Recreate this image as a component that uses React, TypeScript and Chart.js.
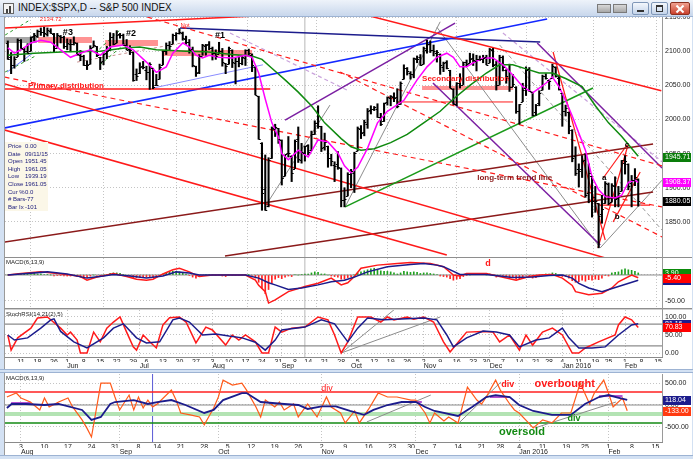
import React, { useEffect, useRef } from "react";
import { Chart, registerables } from "chart.js";

Chart.register(...registerables);
const FONT = "'Liberation Sans', Arial, sans-serif";
Chart.defaults.font.family = FONT;

type Pt = [number, number];

// x = trading-day index, 0 = Mon 11 May 2015 ; first bar = Tue 5 May 2015
const FIRST_BAR = -4;
const MAIN_X: Pt = [-4.85, 194.2];
const BOT_X: Pt = [54.6, 194.4];

// ---------------- S&P 500 daily OHLC (5 May 2015 .. 5 Feb 2016) ----------------
const opens = [
  2112,2091,2080,2092,2116,2103,2100,2100,2122,2122,2130,2128,2125,2130,2125,2105,2122,2121,
  2108,2110,2111,2112,2095,2093,2079,2081,2106,2107,2091,2085,2097,2101,2121,2112,2125,2123,2109,2103,2099,2066,
  2068,2078,2072,2069,2075,2050,2059,2080,2100,2109,2111,2124,2127,2127,2118,2114,2103,2078,2070,2093,2107,2111,
  2104,2097,2096,2100,2082,2081,2102,2082,2086,2083,2090,2101,2095,2077,2034,1966,1898,1873,1943,1986,1987,
  1970,1917,1951,1947,1928,1972,1941,1951,1963,1955,1979,1995,1990,1960,1961,1943,1933,1935,1929,1882,1888,
  1920,1922,1954,1986,1982,1994,2014,2015,2015,2003,1997,2025,2032,2033,2033,2022,2059,2075,2068,2066,2089,2091,
  2081,2102,2110,2102,2098,2096,2077,2084,2072,2044,2022,2054,2051,2084,2083,2090,2085,2089,2089,2091,
  2083,2102,2081,2051,2091,2073,2061,2048,2048,2013,2026,2046,2074,2040,2011,2024,2043,2064,2058,2061,2077,2060,
  2038,2013,2011,1985,1946,1927,1927,1940,1892,1917,1886,1877,1862,1877,1906,1879,1903,1885,1895,
  1936,1935,1907,1911,1913,
];
const highs = [
  2115,2098,2092,2118,2117,2105,2111,2121,2126,2131,2134,2135,2134,2133,2126,2126,2123,2122,
  2118,2117,2121,2112,2101,2094,2086,2108,2115,2107,2091,2098,2107,2127,2126,2130,2126,2125,2117,2108,2099,2074,
  2083,2085,2078,2083,2075,2066,2081,2100,2112,2114,2125,2127,2133,2128,2122,2117,2106,2078,2095,2110,2110,2114,
  2106,2102,2113,2104,2082,2106,2102,2090,2093,2093,2102,2103,2096,2077,2034,1966,1948,1944,1989,1993,1987,
  1970,1948,1975,1947,1970,1989,1965,1961,1963,1983,1998,2020,1990,1980,1961,1949,1938,1953,1929,1900,1922,
  1927,1952,1989,1991,1999,2016,2020,2019,2023,2009,2024,2033,2035,2039,2045,2055,2080,2076,2070,2090,2093,2095,
  2106,2116,2115,2109,2101,2096,2084,2086,2072,2045,2054,2067,2084,2087,2097,2096,2094,2093,2094,2094,
  2104,2104,2085,2094,2093,2073,2081,2066,2048,2022,2053,2077,2076,2040,2022,2042,2065,2067,2058,2081,2077,2063,
  2038,2021,2011,1985,1960,1935,1947,1950,1935,1917,1902,1877,1889,1909,1907,1906,1916,1902,1940,
  1947,1935,1918,1928,1913,
];
const lows = [
  2088,2067,2075,2092,2104,2085,2096,2100,2115,2120,2123,2121,2122,2126,2099,2105,2112,2104,
  2102,2099,2109,2094,2086,2079,2073,2081,2106,2092,2073,2080,2089,2101,2109,2112,2119,2108,2102,2095,2056,2057,
  2067,2074,2058,2044,2045,2050,2059,2080,2095,2102,2111,2116,2125,2116,2110,2097,2077,2063,2067,2094,2094,2102,
  2087,2088,2096,2078,2067,2081,2076,2052,2077,2080,2079,2094,2070,2036,1971,1867,1867,1872,1943,1975,1965,
  1904,1917,1945,1909,1928,1937,1936,1939,1948,1955,1978,1987,1953,1955,1930,1932,1909,1927,1872,1872,1888,
  1900,1893,1954,1972,1976,1987,2008,2013,2003,1991,1997,2021,2020,2026,2017,2022,2059,2065,2059,2061,2083,2079,
  2081,2097,2098,2093,2084,2066,2070,2074,2046,2022,2020,2046,2051,2078,2083,2079,2071,2086,2083,2080,
  2083,2077,2043,2051,2071,2053,2041,2048,2009,1993,2026,2035,2041,2005,2006,2020,2043,2059,2044,2061,2062,2043,
  1990,2005,1979,1938,1918,1901,1915,1886,1878,1857,1864,1812,1848,1877,1875,1879,1872,1872,1895,
  1920,1897,1872,1903,1873,
];
const closes = [
  2089,2080,2088,2116,2105,2100,2098,2121,2123,2129,2128,2126,2131,2126,2104,2123,2121,2107,
  2112,2110,2114,2096,2093,2079,2080,2105,2109,2094,2084,2096,2100,2121,2110,2123,2124,2109,2102,2101,2058,2063,
  2077,2077,2069,2081,2047,2051,2077,2100,2109,2107,2124,2127,2128,2119,2114,2102,2080,2068,2093,2109,2109,2104,
  2098,2093,2100,2084,2078,2104,2084,2086,2083,2092,2102,2097,2080,2036,1971,1893,1868,1940,1988,1989,1972,
  1914,1949,1951,1921,1969,1942,1952,1961,1953,1978,1995,1990,1958,1967,1943,1939,1932,1931,1882,1884,1920,
  1924,1951,1987,1980,1996,2013,2015,2018,2004,1994,2024,2033,2034,2031,2019,2053,2075,2071,2066,2090,2089,2079,
  2104,2110,2102,2100,2099,2079,2082,2075,2046,2023,2053,2050,2084,2081,2089,2087,2089,2089,2090,2080,
  2103,2080,2050,2092,2077,2064,2048,2052,2012,2022,2043,2073,2042,2006,2021,2039,2064,2061,2056,2078,2063,2044,
  2013,2017,1990,1943,1922,1924,1939,1890,1922,1880,1881,1859,1869,1907,1877,1904,1883,1893,1940,
  1939,1903,1912,1916,1880,
];

// moving averages on the price panel
const pinkAvg: Pt[] = [
  [-4,2105],[-2,2097],[0,2102],[3,2112],[6,2116],[9,2113],[12,2102],[15,2091],[18,2097],[21,2102],[24,2094],
  [27,2106],[31,2109],[34,2102],[38,2084],[41,2069],[44,2077],[46,2097],[49,2112],[51,2106],[53,2094],[55,2090],
  [57,2094],[60,2091],[64,2090],[68,2094],[70,2091],[72,2068],[74,2030],[76,1995],[78,1974],[79,1950],[81,1941],
  [84,1955],[87,1945],[90,1970],[93,1967],[96,1951],[98,1932],[100,1922],[102,1930],[105,1958],[108,1995],
  [111,2012],[116,2028],[120,2058],[123,2077],[126,2091],[129,2097],[131,2091],[133,2077],[135,2077],[137,2083],
  [140,2090],[143,2090],[146,2080],[149,2065],[152,2048],[155,2039],[157,2046],[159,2053],[161,2062],[163,2048],
  [165,2028],[167,2005],[169,1980],[171,1955],[173,1916],[175,1897],[177,1887],[180,1885],[182,1889],[184,1908],
  [186,1911],[187,1908],
];
const greenAvg: Pt[] = [
  [-4,2094],[4,2097],[14,2099],[24,2100],[32,2105],[36,2106],[41,2102],[50,2100],[56,2099],[64,2095],[70,2093],
  [73,2088],[76,2075],[80,2058],[84,2040],[88,2020],[92,1995],[97,1972],[100,1960],[103,1955],[107,1957],
  [112,1966],[117,1978],[122,1995],[127,2012],[131,2030],[136,2050],[141,2068],[145,2080],[149,2080],[153,2074],
  [157,2068],[161,2068],[165,2060],[170,2048],[174,2020],[178,1995],[182,1975],[187,1946],
];

// hand-drawn trend lines on the price panel (endpoints: day index, price)
const redTop: Pt[] = [[-5,2134],[71,2151.5]];
const redUpperDown: Pt[] = [[100,2158.5],[194,2042]];
const redChanA: Pt[] = [[-5,1984.6],[129,1801.5]];
const redChanB: Pt[] = [[-5,2052],[180,1793]];
const redDashA: Pt[] = [[38.2,2150],[194.2,1932]];
const redDashB: Pt[] = [[96.7,2069.5],[194.2,1828]];
const redDashC: Pt[] = [[-5,2062],[194.2,1872]];
const primaryLine: Pt[] = [[-5,2044.6],[75.5,2044.6]];
const blueUp: Pt[] = [[-5,1987.5],[159.4,2147]];
const navyLine: Pt[] = [[48.2,2134],[157.3,2113.4]];
const lightBlue1: Pt[] = [[40,2046],[73.3,2080]];
const lightBlue2: Pt[] = [[-4.2,2069.5],[3.6,2097.3]];
const purpleUp: Pt[] = [[80,1999],[131.5,2141]];
const purpleDown1: Pt[] = [[124.8,2053.4],[175.5,1816.2]];
const purpleDown2: Pt[] = [[156.4,2112],[194.2,1929]];
const greenUp: Pt[] = [[98.2,1872],[173.3,2046]];
const brownUpper: Pt[] = [[-5,1820.6],[191.5,1964]];
const brownLower: Pt[] = [[61.8,1800],[191.5,1893.8]];
const greyFan1: Pt[] = [[98.2,1872],[127,2143]];
const greyFan2: Pt[] = [[73.9,1872],[93.6,2021]];
const greyFan3: Pt[] = [[126,2135],[175.5,1812]];
const greyFan4: Pt[] = [[145,2109],[194.2,1838]];
const greyFan5: Pt[] = [[175.5,1812],[194.2,1911]];
const thistle1: Pt[] = [[63.3,2126.6],[98.8,2043]];
const thistle2: Pt[] = [[146,2126.6],[194.2,1938]];
const greenDash1: Pt[] = [[-4.8,2123.6],[2.7,2145.6]];
const greenDash2: Pt[] = [[22.4,2097],[30,2131]];
const greenDash3: Pt[] = [[23.9,2080],[32,2113]];
const greenDash4: Pt[] = [[-4.8,2069.5],[4.8,2094]];
const brownDash: Pt[] = [[17,2084],[50.3,2113.4]];
const redSteep: Pt[] = [[161.2,2098.8],[177,1823.5]];
const redAC: Pt[] = [[176.4,1914.3],[183.6,1962.6]];
const redBC: Pt[] = [[174.8,1812],[183.9,1962.6]];
const redBUp: Pt[] = [[179.4,1850],[187.6,1923]];
const redFlat: Pt[] = [[175.5,1874.7],[190.6,1874.7]];
const zoneGrey: Pt[] = [[-4.8,2116.3],[4.8,2116.3]];
const zone3: Pt[] = [[5.2,2116.3],[21.5,2116.3]];
const zone2: Pt[] = [[25.5,2112],[41.5,2112]];
const zone1: Pt[] = [[42.7,2097.3],[70,2097.3]];
const zoneSecondary: Pt[] = [[121.5,2046],[149.1,2046]];
const secondaryLine: Pt[] = [[114.8,2025.6],[149.1,2025.6]];
const CURSOR_DAY = 86; // 11 Sep 2015

// ---------------- MACD(6,13,9) middle panel ----------------
const macdLine: Pt[] = [
  [-4,0],[0,3],[6,6],[11,3],[15,0],[18,-3],[20,-10],[23,-4],[26,0],[28,3],[32,-3],[35,-8],[38,-10],[40,-8],
  [43,2],[46,10],[48,13],[51,6],[54,-3],[58,0],[63,0],[68,0],[71,-10],[72,-20],[74,-32],[75,-54],[77,-48],
  [81,-32],[86,-22],[90,-16],[94,-6],[97,-19],[99,-15],[101,-3],[103,13],[108,19],[114,22],[118,24],[124,22],
  [128,16],[131,0],[133,-2],[135,3],[141,3],[145,-3],[150,-10],[154,-3],[157,0],[161,1],[164,-6],[167,-20],
  [168,-32],[172,-38],[176,-35],[179,-25],[181,-13],[185,0],[187,-5.4],
];
const macdSignal: Pt[] = [
  [-4,0],[8,6],[14,2],[20,-6],[25,-2],[28,1],[33,-2],[38,-6],[43,-2],[47,6],[51,4],[54,0],[68,0],[72,-6],
  [75,-15],[77,-19],[81,-28],[85,-25],[90,-19],[94,-13],[98,-10],[101,-4],[105,6],[111,16],[118,20],[122,22],
  [126,19],[128,16],[133,1],[141,1],[145,-2],[149,-5],[155,-4],[160,-1],[164,0],[167,-6],[169,-16],[172,-25],
  [176,-32],[181,-22],[187,-10],
];
const macdHist = [
  0,1,1,2,2,2,3,3,3,2,2,1,1,0,-2,-1,-1,-2,
  -2,-2,-1,-3,-4,-5,-5,-2,0,-1,-2,0,1,3,4,4,3,1,-1,-2,-5,-5,
  -4,-3,-4,-3,-5,-4,-1,2,4,6,7,7,6,4,2,-1,-4,-6,-3,-1,1,1,
  0,-1,0,-2,-3,0,-1,-1,-1,0,1,1,-1,-6,-14,-26,-36,-28,-16,-8,-5,
  -7,-4,-2,-3,1,0,1,2,2,4,6,5,2,2,0,-2,-3,-4,-8,-8,-5,
  -3,0,4,6,8,10,12,13,11,8,7,7,6,4,2,4,7,6,5,6,5,3,
  4,4,3,2,1,-2,-3,-4,-7,-10,-8,-7,-3,-1,0,1,1,1,1,0,
  2,0,-4,-1,-2,-3,-5,-5,-8,-8,-5,-1,-2,-6,-5,-3,1,2,2,4,3,1,
  -3,-3,-6,-11,-14,-13,-10,-12,-9,-10,-8,-9,-6,-1,-2,4,5,6,10,
  12,10,9,7,4,
];

// ---------------- StochRSI(14,21(2),5) ----------------
const stochFast: Pt[] = [
  [-4,50],[-3,8],[-1,42],[3,69],[5,97],[8,100],[12,69],[14,50],[15,58],[17,36],[18,0],[20,0],[22,58],[24,31],
  [26,69],[28,86],[30,100],[32,58],[34,17],[35,8],[37,50],[39,31],[41,14],[43,78],[45,98],[48,100],[50,86],
  [53,28],[56,72],[58,64],[62,22],[64,50],[66,36],[68,50],[71,31],[73,0],[75,0],[77,72],[79,58],[82,69],
  [86,72],[90,100],[93,92],[95,50],[97,0],[99,31],[102,100],[106,100],[109,86],[111,100],[113,92],[117,100],
  [119,94],[122,100],[125,86],[128,31],[130,3],[133,36],[135,58],[140,60],[143,58],[145,31],[148,50],[151,8],
  [153,50],[155,22],[158,58],[161,69],[164,50],[167,0],[169,0],[171,14],[175,31],[180,50],[181,78],[183,100],
  [185,92],[187,71],
];
const stochSlow: Pt[] = [
  [-4,50],[-2,36],[2,42],[6,69],[9,92],[10,95],[12,60],[16,31],[20,14],[25,42],[28,69],[31,81],[35,42],
  [38,28],[42,31],[46,92],[48,97],[51,86],[55,50],[59,53],[63,47],[67,42],[71,30],[74,8],[77,36],[79,64],
  [86,72],[91,92],[95,81],[99,31],[102,69],[105,97],[110,92],[122,97],[126,92],[129,50],[131,17],[135,42],
  [140,61],[144,58],[148,50],[151,17],[156,36],[160,42],[164,69],[166,42],[169,14],[173,14],[177,17],
  [181,50],[185,78],[187,81],
];
const stochRay1: Pt[] = [[97,0],[113,120]];
const stochRay2: Pt[] = [[97,0],[127,100]];

// ---------------- lower window MACD(6,13,9) ----------------
const lowMacd: Pt[] = [
  [55,182],[57,272],[58,160],[60,68],[62,-113],[63,160],[64,-45],[66,68],[68,160],[69,-45],[71,-340],
  [72,-522],[73,-730],[75,500],[77,500],[78,182],[79,-113],[81,227],[82,-113],[83,182],[84,-68],[85,113],
  [86,-45],[87,23],[90,340],[91,113],[92,-182],[94,-226],[96,-272],[97,-454],[99,-68],[100,182],[101,567],
  [103,454],[105,500],[106,340],[108,-45],[109,-272],[110,113],[112,-45],[113,68],[114,-113],[116,23],
  [117,-272],[119,23],[121,-272],[123,182],[124,-45],[126,-182],[127,-409],[129,-136],[130,-409],[132,-90],
  [134,272],[136,182],[138,182],[141,113],[142,113],[144,-182],[145,-409],[146,-182],[148,-363],[149,-272],
  [151,-409],[153,408],[155,113],[156,23],[157,182],[159,567],[160,340],[162,23],[163,-113],[164,-182],
  [166,-409],[167,-522],[169,-340],[171,-409],[173,-182],[175,-182],[177,500],[179,23],[180,272],[182,567],
  [183,272],[184,-45],[186,160],[187,-133],
];
const lowSignal: Pt[] = [
  [55,-68],[56,23],[59,23],[63,0],[66,23],[71,-113],[73,-340],[75,-272],[77,23],[78,68],[82,113],[85,23],
  [87,68],[90,113],[93,0],[97,-182],[99,-113],[101,113],[105,272],[106,272],[109,68],[114,23],[117,0],
  [119,-90],[122,-30],[125,-30],[128,-136],[131,-226],[133,-113],[136,0],[139,68],[142,68],[144,-45],
  [146,-136],[151,-250],[154,-45],[157,182],[159,227],[162,182],[164,0],[167,-136],[171,-226],[175,-226],
  [178,23],[181,182],[183,227],[185,170],[187,118],
];
const OVERBOUGHT = 295;
const OVERSOLD_SOFT = -205;
const OVERSOLD = -410;
const lowRay1: Pt[] = [[131.6,-386],[145.2,227]];
const lowRay2: Pt[] = [[151.2,-409],[160.1,522]];
const lowRay3: Pt[] = [[167.4,-522],[184.6,68]];
const violet1: Pt[] = [[55.9,45],[60.1,45]];
const violet2: Pt[] = [[139.5,68],[143.3,68]];
const violet3: Pt[] = [[157.8,182],[162,182]];
const violet4: Pt[] = [[181,204],[186,204]];

// ---------------- date axes ----------------
const weekIdx = [0,5,10,14,19,24,29,34,38,43,48,53,58,63,68,73,78,83,87,92,97,102,107,112,117,122,127,132,137,141,146,151,156,160,164,169,174,178,183,188,193];
const weekLbl = ["11","18","26","1","8","15","22","29","6","13","20","27","3","10","17","24","31","8","14","21","28","5","12","19","26","2","9","16","23","30","7","14","21","28","4","11","19","25","1","8","15"];
const monthIdx = [14,36,58,79,100,122,142,164,183];
const monthLbl = ["Jun","Jul","Aug","Sep","Oct","Nov","Dec","Jan 2016","Feb"];
const lowWeekIdx = [58,63,68,73,78,83,87,92,97,102,107,112,117,122,127,132,137,141,146,151,156,160,164,169,174,178,183,188,193];
const lowWeekLbl = ["3","10","17","24","31","8","14","21","28","5","12","19","26","2","9","16","23","30","7","14","21","28","4","11","19","25","1","8","15"];
const lowMonthIdx = [58,79,100,122,142,164,183];
const lowMonthLbl = ["Aug","Sep","Oct","Nov","Dec","Jan 2016","Feb"];

const priceTicks = [1850,1900,1950,2000,2050,2100,2150];

// ---------------- helpers ----------------
const line = (pts: Pt[], color: string, width = 1, dash: number[] = [], order = 6): any => ({
  type: "line",
  data: pts.map(([x, y]) => ({ x, y })),
  borderColor: color,
  backgroundColor: color,
  borderWidth: width,
  borderDash: dash,
  borderCapStyle: "butt",
  pointRadius: 0,
  pointHoverRadius: 0,
  tension: 0,
  fill: false,
  order,
});
const hLine = (v: number, range: Pt, color: string, width = 1, dash: number[] = [], order = 8) =>
  line([[range[0] - 1, v], [range[1] + 1, v]], color, width, dash, order);
const vLine = (d: number, lo: number, hi: number, color: string, width = 1) =>
  line([[d, lo], [d, hi]], color, width, [], 9);

const xHidden = (r: Pt): any => ({
  type: "linear", min: r[0], max: r[1], offset: false, bounds: "data",
  afterBuildTicks: (s: any) => { s.ticks = monthIdx.map((v) => ({ value: v })); },
  ticks: { display: false },
  grid: { color: "#c4c4c4", drawTicks: false },
  border: { display: false, dash: [1, 2] },
  afterFit: (s: any) => { s.height = 0; s.paddingLeft = 0; s.paddingRight = 0; },
});
const yRight = (min: number, max: number, ticks: number[], grid = true): any => ({
  type: "linear", position: "right", min, max, bounds: "data",
  afterBuildTicks: (s: any) => { s.ticks = ticks.map((v) => ({ value: v })); },
  ticks: { font: { size: 7, family: FONT }, color: "#222", padding: 3, autoSkip: false,
    callback: (v: any) => Number(v).toFixed(2) },
  grid: { display: grid, color: "#c4c4c4", drawTicks: false },
  border: { display: false, dash: [1, 2] },
  afterFit: (s: any) => { s.width = 29; s.paddingTop = 0; s.paddingBottom = 0; },
});
const xWeeks = (r: Pt, idx: number[], lbl: string[], h: number): any => ({
  type: "linear", position: "bottom", min: r[0], max: r[1], offset: false, bounds: "data",
  afterBuildTicks: (s: any) => { s.ticks = idx.map((v) => ({ value: v })); },
  ticks: { autoSkip: false, maxRotation: 0, minRotation: 0, padding: 1, color: "#222",
    font: { size: 7, family: FONT, lineHeight: 1.2 }, callback: (_v: any, i: number) => lbl[i] },
  grid: { display: false, drawTicks: false },
  border: { display: true, color: "#8a8a8a" },
  afterFit: (s: any) => { s.height = h; s.paddingLeft = 0; s.paddingRight = 0; },
});
const xMonths = (r: Pt, idx: number[], lbl: string[], h: number): any => ({
  type: "linear", position: "bottom", weight: 1, min: r[0], max: r[1], offset: false, bounds: "data",
  afterBuildTicks: (s: any) => { s.ticks = idx.map((v) => ({ value: v })); },
  ticks: { autoSkip: false, maxRotation: 0, minRotation: 0, padding: 0, align: "start", color: "#222",
    font: { size: 7, family: FONT, lineHeight: 1.2 }, callback: (_v: any, i: number) => lbl[i] },
  grid: { display: true, color: "#c4c4c4", drawTicks: false },
  border: { display: false, dash: [1, 2] },
  afterFit: (s: any) => { s.height = h; s.paddingLeft = 0; s.paddingRight = 0; },
});

type Note = { t: string; x: number; y: number; color: string; size: number; bold?: boolean; align?: CanvasTextAlign };
const notesPlugin = (id: string, notes: Note[]) => ({
  id,
  afterDatasetsDraw(chart: any) {
    const { ctx, scales } = chart;
    ctx.save();
    ctx.textBaseline = "middle";
    for (const n of notes) {
      ctx.font = `${n.bold ? "bold " : ""}${n.size}px ${FONT}`;
      ctx.fillStyle = n.color;
      ctx.textAlign = n.align || "center";
      ctx.fillText(n.t, scales.x.getPixelForValue(n.x), scales.y.getPixelForValue(n.y));
    }
    ctx.restore();
  },
});
type Box = { v: number; t: string; bg: string };
const boxesPlugin = (id: string, boxes: Box[]) => ({
  id,
  afterDraw(chart: any) {
    const { ctx, chartArea, scales } = chart;
    ctx.save();
    ctx.font = `7px ${FONT}`;
    ctx.textBaseline = "middle";
    ctx.textAlign = "left";
    for (const b of boxes) {
      const py = Math.round(scales.y.getPixelForValue(b.v));
      ctx.fillStyle = b.bg;
      ctx.fillRect(chartArea.right + 1, py - 4, 29, 9);
      ctx.fillStyle = "#fff";
      ctx.fillText(b.t, chartArea.right + 3, py + 0.5);
    }
    ctx.restore();
  },
});
const ohlcTicksPlugin = {
  id: "ohlcTicks",
  afterDatasetsDraw(chart: any) {
    const { ctx, scales } = chart;
    ctx.save();
    ctx.strokeStyle = "#000";
    ctx.lineWidth = 1;
    ctx.beginPath();
    for (let i = 0; i < closes.length; i++) {
      const px = scales.x.getPixelForValue(FIRST_BAR + i);
      const po = Math.round(scales.y.getPixelForValue(opens[i])) + 0.5;
      const pc = Math.round(scales.y.getPixelForValue(closes[i])) + 0.5;
      ctx.moveTo(px - 2, po); ctx.lineTo(px, po);
      ctx.moveTo(px, pc); ctx.lineTo(px + 2, pc);
    }
    ctx.stroke();
    ctx.restore();
  },
};

const baseOptions = (scales: any) => ({
  animation: false,
  responsive: false,
  events: [],
  layout: { padding: 0 },
  plugins: { legend: { display: false }, tooltip: { enabled: false }, title: { display: false } },
  scales,
});

const RED = "#ff1a1a";
const DASH = [5, 4];

function priceConfig(): any {
  const ds = [
    { type: "bar", data: highs.map((h, i) => ({ x: FIRST_BAR + i, y: [lows[i], h] })), backgroundColor: "#000",
      borderWidth: 0, barThickness: 1.4, grouped: false, order: 4 },
    line(pinkAvg, "#ff00ff", 1.5, [], 2),
    line(greenAvg, "#0f8a0f", 1.5, [], 2),
    vLine(CURSOR_DAY, 1700, 2200, "#b8b8b8"),
    line(zoneGrey, "rgba(150,150,150,0.85)", 6, [], 7),
    line(zone3, "rgba(255,120,120,0.8)", 6, [], 7),
    line(zone2, "rgba(255,120,120,0.8)", 6, [], 7),
    line(zone1, "rgba(255,120,120,0.8)", 6, [], 7),
    line(zoneSecondary, "rgba(255,120,120,0.8)", 4, [], 7),
    line(secondaryLine, RED, 1),
    line(primaryLine, RED, 1.5),
    line(redTop, RED, 1.5),
    line(redUpperDown, RED, 1.5),
    line(redChanA, RED, 1.5),
    line(redChanB, RED, 1.5),
    line(redDashA, RED, 1.2, DASH),
    line(redDashB, RED, 1.2, DASH),
    line(redDashC, RED, 1.2, DASH),
    line(blueUp, "#1428ff", 1.5),
    line(navyLine, "#1c1c8c", 1.5),
    line(lightBlue1, "#8a8cff", 1),
    line(lightBlue2, "#6b7bff", 1),
    line(purpleUp, "#7b1fa2", 1.5),
    line(purpleDown1, "#7b1fa2", 1.5),
    line(purpleDown2, "#7b1fa2", 1.5),
    line(greenUp, "#1a9a1a", 1.5),
    line(brownUpper, "#8b1a1a", 1.5),
    line(brownLower, "#8b1a1a", 1.5),
    line(greyFan1, "#8c8c8c", 1),
    line(greyFan2, "#8c8c8c", 1),
    line(greyFan3, "#8c8c8c", 1),
    line(greyFan4, "#9a9a9a", 1, [4, 3]),
    line(greyFan5, "#8c8c8c", 1),
    line(thistle1, "#c9a3dc", 1.2, [4, 3]),
    line(thistle2, "#c9a3dc", 1.2, [4, 3]),
    line(greenDash1, "#2a9a2a", 1, [3, 3]),
    line(greenDash2, "#2a9a2a", 1, [3, 3]),
    line(greenDash3, "#2a9a2a", 1, [3, 3]),
    line(greenDash4, "#2a9a2a", 1, [3, 3]),
    line(brownDash, "#c89090", 1, [3, 3]),
    line(redSteep, RED, 1.2),
    line(redAC, RED, 1.2),
    line(redBC, RED, 1.2),
    line(redBUp, RED, 1.2),
    line(redFlat, RED, 1.2),
  ];
  const notes: Note[] = [
    { t: "2134.72", x: 9, y: 2147, color: RED, size: 6 },
    { t: "Not", x: 49.7, y: 2138, color: RED, size: 6 },
    { t: "#3", x: 14.2, y: 2128, color: "#000", size: 9, bold: true },
    { t: "#2", x: 33.3, y: 2126.5, color: "#000", size: 9, bold: true },
    { t: "#1", x: 60.3, y: 2123.5, color: "#000", size: 9, bold: true },
    { t: "Primary distribution", x: 2.1, y: 2049, color: RED, size: 8, bold: true, align: "left" },
    { t: "Secondary distribution", x: 121.5, y: 2059, color: RED, size: 8, bold: true, align: "left" },
    { t: "long-term trend line", x: 138.2, y: 1914, color: "#8b1a1a", size: 8, bold: true, align: "left" },
    { t: "a", x: 176.7, y: 1914, color: "#000", size: 8, bold: true },
    { t: "b", x: 180.6, y: 1857, color: "#000", size: 8, bold: true },
    { t: "c", x: 183.6, y: 1963, color: "#000", size: 8, bold: true },
  ];
  const boxes: Box[] = [
    { v: 1945.71, t: "1945.71", bg: "#0a7d0a" },
    { v: 1908.37, t: "1908.37", bg: "#ff00ff" },
    { v: 1880.05, t: "1880.05", bg: "#000" },
  ];
  return {
    type: "line",
    data: { datasets: ds },
    options: baseOptions({ x: xHidden(MAIN_X), y: yRight(1798.6, 2150, priceTicks) }),
    plugins: [ohlcTicksPlugin, notesPlugin("priceNotes", notes), boxesPlugin("priceBoxes", boxes)],
  };
}

function macdConfig(): any {
  const ds = [
    { type: "bar", data: macdHist.map((v, i) => ({ x: FIRST_BAR + i, y: v })),
      backgroundColor: macdHist.map((v) => (v >= 0 ? "#1fa01f" : "#ff2020")), barThickness: 1, grouped: false, order: 7 },
    hLine(0, MAIN_X, "#8c8c8c", 1),
    vLine(CURSOR_DAY, -100, 100, "#b8b8b8"),
    line(macdLine, RED, 1.5, [], 3),
    line(macdSignal, "#1c1c8c", 1.5, [], 2),
  ];
  const notes: Note[] = [{ t: "d", x: 141.5, y: 23, color: RED, size: 9, bold: true }];
  const boxes: Box[] = [
    { v: -9.3, t: "-9.30", bg: "#1c1c8c" },
    { v: 3.9, t: "3.90", bg: "#0a8a0a" },
    { v: -5.4, t: "-5.40", bg: "#ff0000" },
  ];
  return {
    type: "line",
    data: { datasets: ds },
    options: baseOptions({ x: xHidden(MAIN_X), y: yRight(-63.5, 32.7, [-50, 0]) }),
    plugins: [notesPlugin("macdNotes", notes), boxesPlugin("macdBoxes", boxes)],
  };
}

function stochConfig(): any {
  const ds = [
    hLine(80, MAIN_X, "#8c8c8c", 1.2),
    hLine(20, MAIN_X, "#8c8c8c", 1.2),
    vLine(CURSOR_DAY, -20, 130, "#b8b8b8"),
    line(stochRay1, "#8c8c8c", 1, [], 7),
    line(stochRay2, "#8c8c8c", 1, [], 7),
    line(stochFast, RED, 1.5, [], 3),
    line(stochSlow, "#1c1c8c", 1.5, [], 2),
  ];
  const boxes: Box[] = [
    { v: 81.16, t: "81.16", bg: "#1c1c8c" },
    { v: 70.83, t: "70.83", bg: "#ff0000" },
  ];
  return {
    type: "line",
    data: { datasets: ds },
    options: baseOptions({
      x: xWeeks(MAIN_X, weekIdx, weekLbl, 5),
      xm: xMonths(MAIN_X, monthIdx, monthLbl, 7),
      y: yRight(-11.1, 119.4, [0, 50, 100]),
    }),
    plugins: [boxesPlugin("stochBoxes", boxes)],
  };
}

function lowerConfig(): any {
  const ds = [
    hLine(OVERBOUGHT, BOT_X, "#ff2020", 1.5),
    hLine(0, BOT_X, "#8c8c8c", 1.2),
    hLine(OVERSOLD_SOFT, BOT_X, "#b3e3b3", 4),
    hLine(OVERSOLD, BOT_X, "#138a13", 1.5),
    vLine(CURSOR_DAY, -1000, 1000, "#5a5ad6"),
    line(lowRay1, "#8c8c8c", 1, [], 7),
    line(lowRay2, "#8c8c8c", 1, [], 7),
    line(lowRay3, "#8c8c8c", 1, [], 7),
    line(violet1, "#b050d0", 2, [], 7),
    line(violet2, "#b050d0", 2, [], 7),
    line(violet3, "#b050d0", 2, [], 7),
    line(violet4, "#b050d0", 2, [], 7),
    line(lowMacd, "#ff5a1a", 1.2, [], 3),
    line(lowSignal, "#1c1c8c", 1.8, [], 2),
  ];
  const notes: Note[] = [
    { t: "div", x: 123.1, y: 380, color: RED, size: 9 },
    { t: "div", x: 161.6, y: 470, color: RED, size: 9, bold: true },
    { t: "overbought", x: 173.7, y: 470, color: RED, size: 11, bold: true },
    { t: "div", x: 175.7, y: -318, color: "#138a13", size: 9, bold: true },
    { t: "oversold", x: 164.6, y: -616, color: "#138a13", size: 11, bold: true },
  ];
  const boxes: Box[] = [
    { v: 118.04, t: "118.04", bg: "#1c1c8c" },
    { v: -133, t: "-133.00", bg: "#ff3a10" },
  ];
  return {
    type: "line",
    data: { datasets: ds },
    options: baseOptions({
      x: xWeeks(BOT_X, lowWeekIdx, lowWeekLbl, 6),
      xm: xMonths(BOT_X, lowMonthIdx, lowMonthLbl, 7),
      y: yRight(-844, 707, [-500, 0, 500]),
    }),
    plugins: [notesPlugin("lowNotes", notes), boxesPlugin("lowBoxes", boxes)],
  };
}

const infoRows: [string, string][] = [
  ["Price", "0.00"], ["Date", "09/11/15"], ["Open", "1951.45"], ["High", "1961.05"], ["Low", "1939.19"],
  ["Close", "1961.05"], ["Cur %", "0.0"], ["# Bars", "-77"], ["Bar Ix", "-101"],
];

const abs = (l: number, t: number, w: number, h: number, extra: any = {}): any => ({
  position: "absolute", left: l, top: t, width: w, height: h, ...extra,
});

export default function App() {
  const priceRef = useRef<HTMLCanvasElement>(null);
  const macdRef = useRef<HTMLCanvasElement>(null);
  const stochRef = useRef<HTMLCanvasElement>(null);
  const lowRef = useRef<HTMLCanvasElement>(null);

  useEffect(() => {
    const charts = [
      new Chart(priceRef.current as any, priceConfig()),
      new Chart(macdRef.current as any, macdConfig()),
      new Chart(stochRef.current as any, stochConfig()),
      new Chart(lowRef.current as any, lowerConfig()),
    ];
    return () => charts.forEach((c) => c.destroy());
  }, []);

  const small = { fontSize: 6, color: "#222", lineHeight: "7px", whiteSpace: "nowrap" as const };

  return (
    <div style={abs(0, 0, 693, 459, { position: "fixed", background: "#d3e1f3", overflow: "hidden", fontFamily: FONT })}>
      {/* title bar */}
      <div style={abs(0, 0, 693, 17, { background: "linear-gradient(#eef3fa,#c8d7ec)", borderBottom: "1px solid #9db3d3", boxSizing: "border-box" })}>
        <div style={abs(3, 3, 11, 11, { background: "#f4f4f4", border: "1px solid #666", boxSizing: "border-box" })}>
          <div style={abs(2, 5, 2, 4, { background: "#444" })} />
          <div style={abs(5, 2, 2, 7, { background: "#444" })} />
        </div>
        <span style={{ position: "absolute", left: 18, top: 2, fontSize: 10, color: "#111", whiteSpace: "nowrap" }}>
          {"INDEX:$SPX,D -- S&P 500 INDEX"}
        </span>
        <div style={abs(597, 4, 14, 9, { background: "linear-gradient(#d8d8d8,#a8a8a8)", border: "1px solid #7a7a7a", boxSizing: "border-box" })} />
        <div style={abs(613, 4, 14, 9, { background: "linear-gradient(#d8d8d8,#a8a8a8)", border: "1px solid #7a7a7a", boxSizing: "border-box" })} />
        <div style={abs(632, 2, 17, 13, { background: "linear-gradient(#f3f7fc,#c4d4ea)", border: "1px solid #7f97b8", borderRadius: 2, boxSizing: "border-box" })}>
          <div style={abs(4, 7, 7, 2, { background: "#333" })} />
        </div>
        <div style={abs(651, 2, 17, 13, { background: "linear-gradient(#f3f7fc,#c4d4ea)", border: "1px solid #7f97b8", borderRadius: 2, boxSizing: "border-box" })}>
          <div style={abs(4, 2, 7, 7, { border: "1px solid #333", borderTopWidth: 2, boxSizing: "border-box" })} />
        </div>
        <div style={abs(670, 2, 20, 13, { background: "linear-gradient(#f0a090,#c9402c)", border: "1px solid #8a3020", borderRadius: 2, boxSizing: "border-box" })}>
          <div style={abs(4, 5, 10, 2, { background: "#fff", transform: "rotate(45deg)" })} />
          <div style={abs(4, 5, 10, 2, { background: "#fff", transform: "rotate(-45deg)" })} />
        </div>
      </div>

      {/* window bodies */}
      <div style={abs(4, 17, 688, 352, { background: "#fff" })} />
      <div style={abs(4, 373, 688, 82, { background: "#fff" })} />

      <canvas ref={priceRef} width={686} height={240} style={abs(5, 17, 686, 240)} />
      <canvas ref={macdRef} width={686} height={50} style={abs(5, 258, 686, 50)} />
      <canvas ref={stochRef} width={686} height={59} style={abs(5, 310, 686, 59)} />
      <canvas ref={lowRef} width={686} height={81} style={abs(5, 374, 686, 81)} />

      {/* panel frames */}
      <div style={abs(4, 257, 688, 1, { background: "#8e8e8e" })} />
      <div style={abs(4, 308, 688, 1, { background: "#8e8e8e" })} />
      <div style={abs(4, 309, 688, 1, { background: "#d0d0d0" })} />
      <div style={abs(662, 17, 1, 340, { background: "#9a9a9a" })} />
      <div style={abs(4, 17, 1, 352, { background: "#9a9a9a" })} />
      <div style={abs(662, 374, 1, 68, { background: "#9a9a9a" })} />
      <div style={abs(4, 373, 1, 82, { background: "#9a9a9a" })} />
      <div style={abs(0, 369, 693, 1, { background: "#9db3d3" })} />
      <div style={abs(0, 372, 693, 1, { background: "#9db3d3" })} />
      <div style={abs(0, 455, 693, 1, { background: "#9db3d3" })} />

      {/* panel captions */}
      <div style={{ position: "absolute", left: 6, top: 259, ...small }}>MACD(6,13,9)</div>
      <div style={{ position: "absolute", left: 6, top: 311, ...small }}>StochRSI(14,21(2),5)</div>
      <div style={{ position: "absolute", left: 6, top: 375, ...small }}>MACD(6,13,9)</div>

      {/* cursor data window */}
      <div style={abs(5, 142, 43, 69, { background: "#fbf7e8" })}>
        {infoRows.map(([k, v], i) => (
          <div key={k} style={{ position: "absolute", top: 1 + i * 7.6, left: 3, fontSize: 6, lineHeight: "7px", color: "#1a1a7a", whiteSpace: "nowrap" }}>
            <span>{k}</span>
            <span style={{ position: "absolute", left: 17 }}>{v}</span>
          </div>
        ))}
      </div>
    </div>
  );
}
